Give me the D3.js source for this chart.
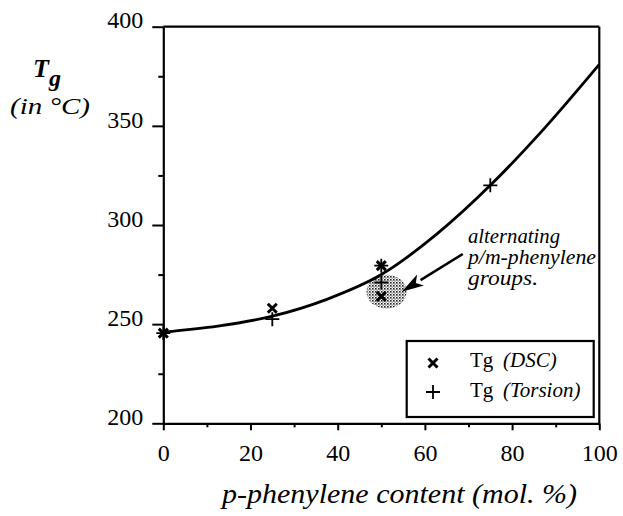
<!DOCTYPE html>
<html><head><meta charset="utf-8">
<script src="https://cdn.jsdelivr.net/npm/d3@7"></script>
<style>
html,body{margin:0;padding:0;background:#fff;}
svg{display:block;}
</style></head>
<body>
<svg id="c" width="623" height="516"></svg>
<script>
// ---- data ----
const dscX = [0, 25, 50, 50];
const dscY = [245.5, 258, 279.5, 264];
const torX = [0, 25, 50, 50, 75];
const torY = [245.5, 252.5, 279.5, 271, 320];
const fitX = [0, 12.5, 25, 37.5, 50, 62.5, 75, 87.5, 100];
const fitY = [246, 249, 254, 262.5, 275, 295, 320, 349, 381];
const xTicks = [0, 20, 40, 60, 80, 100];
const xMinor = [10, 30, 50, 70, 90];
const yTicks = [200, 250, 300, 350, 400];
const yMinor = [225, 275, 325, 375];
const legendLabels = ["(DSC)", "(Torsion)"];
const noteLines = ["alternating", "p/m-phenylene", "groups."];

const svg = d3.select("#c");
const x = d3.scaleLinear().domain([0, 100]).range([163.3, 599.3]);
const y = d3.scaleLinear().domain([200, 400]).range([423.3, 26.7]);
const serif = "Liberation Serif";

// pattern for stippled ellipse
const defs = svg.append("defs");
const pat = defs.append("pattern").attr("id","stip").attr("width",3).attr("height",3).attr("patternUnits","userSpaceOnUse");
pat.append("rect").attr("width",3).attr("height",3).attr("fill","#fff");
pat.append("rect").attr("width",1.6).attr("height",1.6).attr("fill","#222");
pat.append("rect").attr("x",1.5).attr("y",1.5).attr("width",1.2).attr("height",1.2).attr("fill","#555");

// shaded ellipse
svg.append("ellipse").attr("cx", x(51.2)).attr("cy", y(266.4)).attr("rx", 20).attr("ry", 17)
  .attr("fill","url(#stip)");

// axes
const yAx = svg.append("g").attr("transform",`translate(${x(0)},0)`)
  .call(d3.axisLeft(y).tickValues(yTicks).tickSize(11).tickSizeOuter(0).tickPadding(9));
yAx.append("g").call(d3.axisLeft(y).tickValues(yMinor).tickSize(5).tickFormat("").tickSizeOuter(0))
  .select(".domain").remove();
const xAx = svg.append("g").attr("transform",`translate(0,${y(200)})`)
  .call(d3.axisBottom(x).tickValues(xTicks).tickSize(7).tickSizeOuter(0).tickPadding(14));
xAx.append("g").call(d3.axisBottom(x).tickValues(xMinor).tickSize(4).tickFormat("").tickSizeOuter(0))
  .select(".domain").remove();
svg.selectAll("g").attr("font-family", serif);
svg.selectAll(".domain").attr("stroke","#000").attr("stroke-width",2.2);
svg.selectAll(".tick line").attr("stroke","#000").attr("stroke-width",2);
svg.selectAll(".tick text").attr("font-family",serif).attr("font-size",24).attr("fill","#000");
yAx.selectAll(".tick text").attr("dy","0.05em");

// frame top and right
svg.append("line").attr("x1",x(0)).attr("x2",x(100)).attr("y1",y(400)).attr("y2",y(400)).attr("stroke","#000").attr("stroke-width",2.2);
svg.append("line").attr("x1",x(100)).attr("x2",x(100)).attr("y1",y(400)).attr("y2",y(200)).attr("stroke","#000").attr("stroke-width",2.2);

// fit curve
const fit = fitX.map((v,i)=>[v, fitY[i]]);
svg.append("path").datum(fit)
  .attr("d", d3.line().x(d=>x(d[0])).y(d=>y(d[1])).curve(d3.curveMonotoneX))
  .attr("fill","none").attr("stroke","#000").attr("stroke-width",2.8);

// markers
function cross(g, cx, cy, s, w){
  g.append("path").attr("d",`M${cx-s},${cy-s}L${cx+s},${cy+s}M${cx-s},${cy+s}L${cx+s},${cy-s}`)
   .attr("stroke","#000").attr("stroke-width",w).attr("fill","none");
}
function plus(g, cx, cy, s, w){
  g.append("path").attr("d",`M${cx-s},${cy}L${cx+s},${cy}M${cx},${cy-s}L${cx},${cy+s}`)
   .attr("stroke","#000").attr("stroke-width",w).attr("fill","none");
}
const mk = svg.append("g");
dscX.forEach((v,i)=>cross(mk, x(v), y(dscY[i]), 4.5, 3));
torX.forEach((v,i)=>plus(mk, x(v), y(torY[i]), 7, 1.8));

// annotation arrow
const tail = [x(68.7), y(285.4)], tip = [x(54.7), y(266.4)];
const ang = Math.atan2(tip[1]-tail[1], tip[0]-tail[0]);
const hl = 22, hw = 6.5;
const bx = tip[0]-hl*Math.cos(ang), by = tip[1]-hl*Math.sin(ang);
svg.append("line").attr("x1",tail[0]).attr("y1",tail[1]).attr("x2",bx).attr("y2",by)
  .attr("stroke","#000").attr("stroke-width",2.5);
svg.append("path").attr("d",`M${tip[0]},${tip[1]}L${bx+hw*Math.sin(ang)},${by-hw*Math.cos(ang)}L${bx+(hl*0.25)*Math.cos(ang)},${by+(hl*0.25)*Math.sin(ang)}L${bx-hw*Math.sin(ang)},${by+hw*Math.cos(ang)}Z`)
  .attr("fill","#000");

const noteW = [92, 128, 70];
noteLines.forEach((t,i)=>{
  svg.append("text").attr("x",468).attr("y",243+i*21).text(t)
    .attr("font-family",serif).attr("font-style","italic").attr("font-size",20)
    .attr("textLength",noteW[i]).attr("lengthAdjust","spacingAndGlyphs");
});

// legend
svg.append("rect").attr("x",406.7).attr("y",341).attr("width",187).attr("height",76)
  .attr("fill","#fff").attr("stroke","#000").attr("stroke-width",2.2);
cross(svg, 433, 363, 4.5, 3);
plus(svg, 433, 392, 7, 1.8);
legendLabels.forEach((t,i)=>{
  const tx = svg.append("text").attr("x",470).attr("y",367+i*30)
    .attr("font-family",serif).attr("font-size",21);
  tx.append("tspan").text("Tg");
  tx.append("tspan").attr("x",503).attr("font-style","italic").text(t);
});

// y title
const tt = svg.append("text").attr("x",33).attr("y",77).attr("font-family",serif)
  .attr("font-style","italic").attr("font-weight","bold").attr("font-size",26);
tt.append("tspan").text("T");
tt.append("tspan").attr("dy",9).attr("font-size",24).text("g");
svg.append("text").attr("x",10).attr("y",114).text("(in °C)")
  .attr("font-family",serif).attr("font-style","italic").attr("font-size",24)
  .attr("textLength",80).attr("lengthAdjust","spacingAndGlyphs");

// x title
svg.append("text").attr("x",222).attr("y",503).text("p-phenylene content (mol. %)")
  .attr("font-family",serif).attr("font-style","italic").attr("font-size",27)
  .attr("textLength",355).attr("lengthAdjust","spacingAndGlyphs");
</script>
</body></html>
